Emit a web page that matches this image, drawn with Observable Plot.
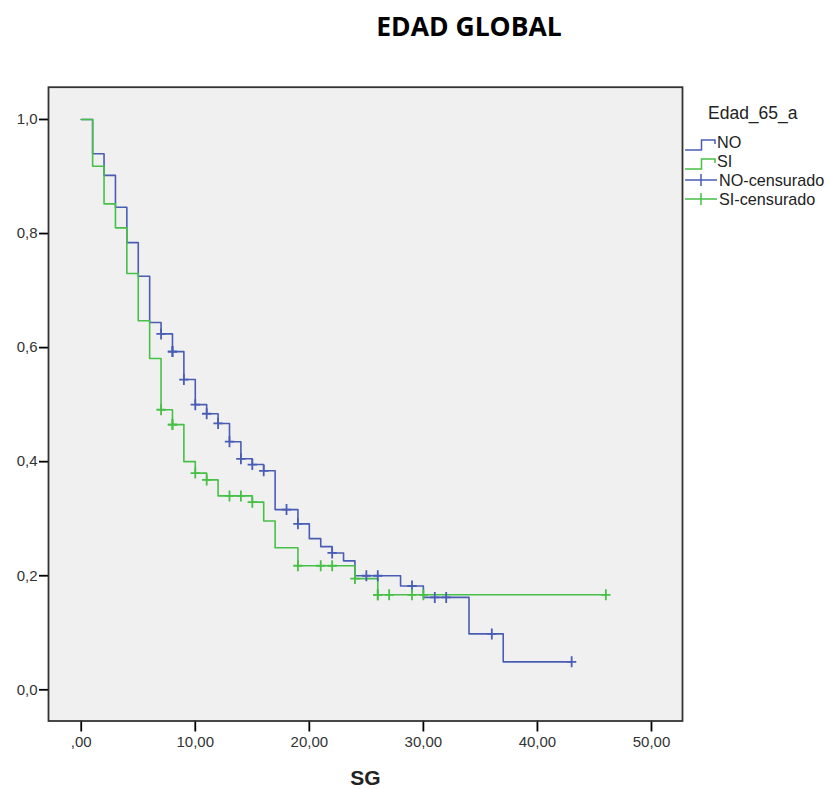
<!DOCTYPE html>
<html>
<head>
<meta charset="utf-8">
<script src="https://cdn.jsdelivr.net/npm/d3@7"></script>
<script src="https://cdn.jsdelivr.net/npm/@observablehq/plot@0.6"></script>
<style>
  html, body { margin: 0; padding: 0; background: #ffffff; }
  #wrap { position: relative; width: 831px; height: 789px; overflow: hidden; }
  #title {
    position: absolute; left: 469px; top: 13px; transform: translateX(-50%);
    font-family: "Open Sans", Lato, sans-serif; font-weight: 700; font-size: 26.5px;
    color: #000; white-space: nowrap; line-height: 1;
  }
  #chart { position: absolute; left: 0; top: 50px; }
  #legend { position: absolute; left: 680px; top: 95px; }
</style>
</head>
<body>
<div id="wrap">
  <div id="title">EDAD GLOBAL</div>
  <div id="chart"></div>
  <svg id="legend" width="151" height="120"></svg>
</div>
<script>
// Kaplan-Meier survival (SG, months) by age group Edad_65_a
const groupNames = ["NO", "SI"];
const groupColors = ["#4a5db5", "#47c047"];

// NO group: event times and survival after each step
const noTime = [0, 1, 2, 3, 4, 5, 6, 7, 8, 9, 10, 11, 12, 13, 14, 15, 16, 17, 19, 20, 21, 22, 23, 24, 28, 30, 34, 37, 43];
const noSurv = [1.0, 0.940, 0.902, 0.846, 0.784, 0.725, 0.644, 0.624, 0.593, 0.544, 0.500, 0.484, 0.467, 0.435, 0.405, 0.395, 0.384, 0.316, 0.291, 0.265, 0.251, 0.240, 0.226, 0.200, 0.182, 0.162, 0.098, 0.049, 0.049];
const noCensored = [7, 8, 8, 9, 10, 11, 12, 13, 14, 15, 16, 18, 19, 22, 25, 26, 29, 31, 32, 36, 43];

// SI group
const siTime = [0, 1, 2, 3, 4, 5, 6, 7, 8, 9, 10, 11, 12, 15, 16, 17, 19, 24, 26, 46];
const siSurv = [1.0, 0.918, 0.852, 0.810, 0.730, 0.647, 0.581, 0.491, 0.465, 0.400, 0.380, 0.368, 0.340, 0.329, 0.296, 0.249, 0.2175, 0.195, 0.1666, 0.1666];
const siCensored = [7, 8, 8, 10, 11, 13, 14, 15, 19, 21, 22, 24, 26, 26, 27, 29, 30, 46];

// Axis ticks
const xTicks = [0, 10, 20, 30, 40, 50];
const xTickLabels = [",00", "10,00", "20,00", "30,00", "40,00", "50,00"];
const yTicks = [0, 0.2, 0.4, 0.6, 0.8, 1.0];
const yTickLabels = ["0,0", "0,2", "0,4", "0,6", "0,8", "1,0"];

const legendTitle = "Edad_65_a";
const legendLabels = ["NO", "SI", "NO-censurado", "SI-censurado"];

// Build step tables and censor points (survival read from the step function)
const steps = (times, surv, group) => times.map((t, i) => ({t, s: surv[i], group}));
const survAt = (times, surv, t) => { let s = surv[0]; times.forEach((tt, i) => { if (tt <= t) s = surv[i]; }); return s; };
const cens = (ctimes, times, surv, group) => ctimes.map(t => ({t, s: survAt(times, surv, t), group}));

const noSteps = steps(noTime, noSurv, "NO");
const siSteps = steps(siTime, siSurv, "SI");
const noCens = cens(noCensored, noTime, noSurv, "NO");
const siCens = cens(siCensored, siTime, siSurv, "SI");

// "+" censor glyph drawn as two strokes
const plusSymbol = {
  draw(ctx, size) {
    const r = Math.sqrt(size / Math.PI);
    ctx.moveTo(-r * 0.85, 0); ctx.lineTo(r * 0.85, 0);
    ctx.moveTo(0, -r); ctx.lineTo(0, r);
  }
};

const fontFam = "'Liberation Sans', Arial, sans-serif";

const chart = Plot.plot({
  width: 831,
  height: 739,
  marginLeft: 48,
  marginRight: 149,
  marginTop: 36.7,
  marginBottom: 68.5,
  style: {fontFamily: fontFam, background: "transparent", color: "#000"},
  x: {domain: [-2.87, 52.72]},
  y: {domain: [-0.0547, 1.0566]},
  color: {domain: groupNames, range: groupColors},
  marks: [
    Plot.frame({fill: "#f0f0f0"}),
    Plot.axisY({
      ticks: yTicks,
      tickFormat: d => yTickLabels[yTicks.indexOf(d)],
      tickSize: 9, tickPadding: 2, fontSize: 15, label: null, strokeWidth: 1.8
    }),
    Plot.axisX({
      ticks: xTicks,
      tickFormat: d => xTickLabels[xTicks.indexOf(d)],
      tickSize: 11, tickPadding: 4, fontSize: 15,
      label: "SG", labelAnchor: "center", labelArrow: "none", labelOffset: 64, strokeWidth: 1.8
    }),
    Plot.line(noSteps, {x: "t", y: "s", stroke: "group", curve: "step-after", strokeWidth: 1.6}),
    Plot.line(siSteps, {x: "t", y: "s", stroke: "group", curve: "step-after", strokeWidth: 1.6}),
    Plot.dot(noCens, {x: "t", y: "s", stroke: "group", symbol: plusSymbol, r: 5.5, strokeWidth: 1.8}),
    Plot.dot(siCens, {x: "t", y: "s", stroke: "group", symbol: plusSymbol, r: 5.5, strokeWidth: 1.8}),
    Plot.frame({stroke: "#333", strokeWidth: 1.8})
  ]
});

document.getElementById("chart").appendChild(chart);

// Axis label styling
d3.select(chart).selectAll('g[aria-label="x-axis label"] text')
  .attr("font-size", 21).attr("font-weight", "bold").attr("fill", "#222");
d3.select(chart).selectAll('g[aria-label="x-axis tick label"] text, g[aria-label="y-axis tick label"] text')
  .attr("fill", "#333");

// Legend
const lg = d3.select("#legend").style("font-family", fontFam);
lg.append("text").attr("x", 28).attr("y", 18).attr("dy", "0.35em")
  .attr("font-size", 17.5).attr("fill", "#222").text(legendTitle);
const rowY = [47, 66, 85, 104];
legendLabels.forEach((lab, i) => {
  const yc = rowY[i];
  const col = groupColors[i % 2];
  if (i < 2) {
    lg.append("path")
      .attr("d", `M5,${yc + 8}H21.5V${yc - 2}H35V${yc + 2}`)
      .attr("fill", "none").attr("stroke", col).attr("stroke-width", 1.5);
  } else {
    lg.append("path")
      .attr("d", `M5,${yc}H37M21,${yc - 6}V${yc + 6}`)
      .attr("fill", "none").attr("stroke", col).attr("stroke-width", 1.5);
  }
  lg.append("text").attr("x", i < 2 ? 37 : 39).attr("y", yc).attr("dy", "0.35em")
    .attr("font-size", 16.2).attr("fill", "#222").text(lab);
});
</script>
</body>
</html>
